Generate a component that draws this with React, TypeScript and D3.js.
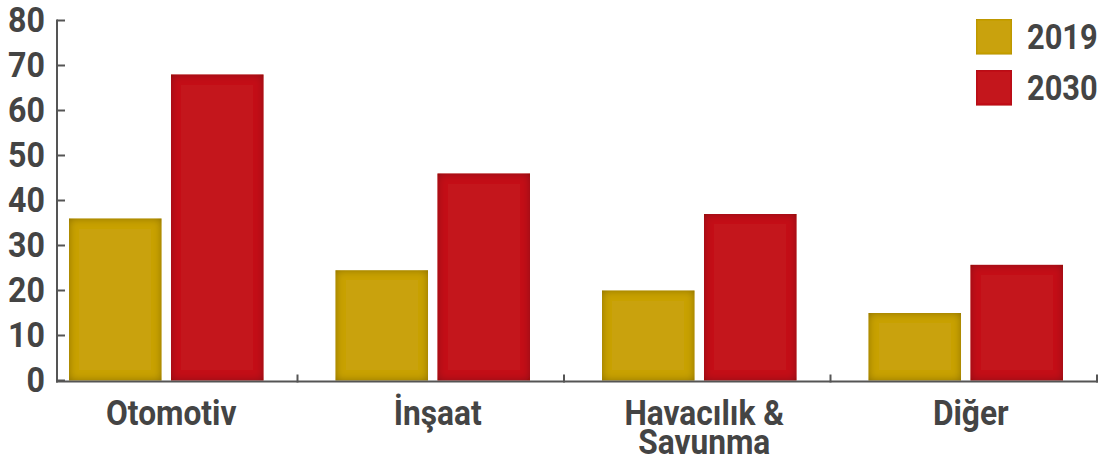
import * as d3 from "d3";

// chart values
const categories = ["Otomotiv", "İnşaat", "Havacılık & Savunma", "Diğer"];
const categoryLines = [["Otomotiv"], ["İnşaat"], ["Havacılık &", "Savunma"], ["Diğer"]];
const series = ["2019", "2030"];
const values2019 = [36, 24.5, 20, 15];
const values2030 = [68, 46, 37, 25.7];
const yTicks = [0, 10, 20, 30, 40, 50, 60, 70, 80];
const seriesColors = ["#c9a20d", "#c4161b"];

const width = 1107;
const height = 466;
const textColor = "#444444";
const axisColor = "#555555";
const font = "Roboto, 'DejaVu Sans', sans-serif";

const App = () => {
  const x = d3.scaleBand<string>().domain(categories).range([31, 1097]);
  const x1 = d3.scaleBand<string>().domain(series).range([38, 232.5]).paddingInner(0.093);
  const y = d3.scaleLinear().domain([0, 80]).range([380.5, 20.5]);
  const color = d3.scaleOrdinal<string, string>().domain(series).range(seriesColors);

  const rows = categories.map((c, i) => ({ cat: c, vals: [values2019[i], values2030[i]] }));
  const axisX = 57;
  const baseY = y(0) + 1;

  return (
    <svg
      width={width}
      height={height}
      style={{ position: "absolute", left: 0, top: 0 }}
      fontFamily={font}
    >
      <defs>
        {/* inner shadow, darker edges on the bars */}
        <filter id="inner" x="-20%" y="-20%" width="140%" height="140%">
          <feFlood floodColor="#000" floodOpacity="0.6" result="flood" />
          <feComposite in="flood" in2="SourceAlpha" operator="out" result="outside" />
          <feGaussianBlur in="outside" stdDeviation="4" result="blur" />
          <feComposite in="blur" in2="SourceAlpha" operator="in" result="shadow" />
          <feMerge>
            <feMergeNode in="SourceGraphic" />
            <feMergeNode in="shadow" />
          </feMerge>
        </filter>
        <filter id="innerSmall" x="-20%" y="-20%" width="140%" height="140%">
          <feFlood floodColor="#000" floodOpacity="0.4" result="flood" />
          <feComposite in="flood" in2="SourceAlpha" operator="out" result="outside" />
          <feGaussianBlur in="outside" stdDeviation="1" result="blur" />
          <feComposite in="blur" in2="SourceAlpha" operator="in" result="shadow" />
          <feMerge>
            <feMergeNode in="SourceGraphic" />
            <feMergeNode in="shadow" />
          </feMerge>
        </filter>
      </defs>

      {/* bars */}
      {rows.map((r) =>
        series.map((s, j) => (
          <rect
            key={r.cat + s}
            x={(x(r.cat) || 0) + (x1(s) || 0)}
            y={y(r.vals[j])}
            width={x1.bandwidth()}
            height={y(0) - y(r.vals[j])}
            fill={color(s)}
            filter="url(#inner)"
          />
        ))
      )}

      {/* y axis */}
      <line x1={axisX} x2={axisX} y1={y(80) - 1} y2={baseY + 1} stroke={axisColor} strokeWidth={2} />
      {yTicks.map((t) => (
        <g key={t}>
          <line x1={axisX} x2={axisX + 8} y1={y(t)} y2={y(t)} stroke={axisColor} strokeWidth={2} />
          <text
            transform={`translate(45,${y(t)}) scale(0.92,1)`}
            textAnchor="end"
            dominantBaseline="central"
            fontSize={35}
            fontWeight={700}
            fill={textColor}
          >
            {t}
          </text>
        </g>
      ))}

      {/* x axis */}
      <line x1={axisX - 1} x2={1098} y1={baseY} y2={baseY} stroke={axisColor} strokeWidth={2} />
      {categories.map((c) => {
        const tx = (x(c) || 0) + x.bandwidth();
        return (
          <line key={c} x1={tx} x2={tx} y1={baseY + 1} y2={baseY - 7} stroke={axisColor} strokeWidth={2} />
        );
      })}
      {categories.map((c, i) => {
        const cx = (x(c) || 0) + x.bandwidth() / 2 + 7;
        return (
          <text
            key={c}
            transform={`translate(${cx},425) scale(0.88,1)`}
            textAnchor="middle"
            fontSize={36}
            fontWeight={700}
            fill={textColor}
          >
            {categoryLines[i].map((line, k) => (
              <tspan key={k} x={0} y={k * 28.5}>
                {line}
              </tspan>
            ))}
          </text>
        );
      })}

      {/* legend */}
      {series.map((s, i) => (
        <g key={s} transform={`translate(976,${19 + i * 51})`}>
          <rect width={36} height={35.5} fill={color(s)} filter="url(#innerSmall)" />
          <text
            transform="translate(51,18) scale(0.88,1)"
            dominantBaseline="central"
            fontSize={35}
            fontWeight={700}
            fill={textColor}
          >
            {s}
          </text>
        </g>
      ))}
    </svg>
  );
};

export default App;
